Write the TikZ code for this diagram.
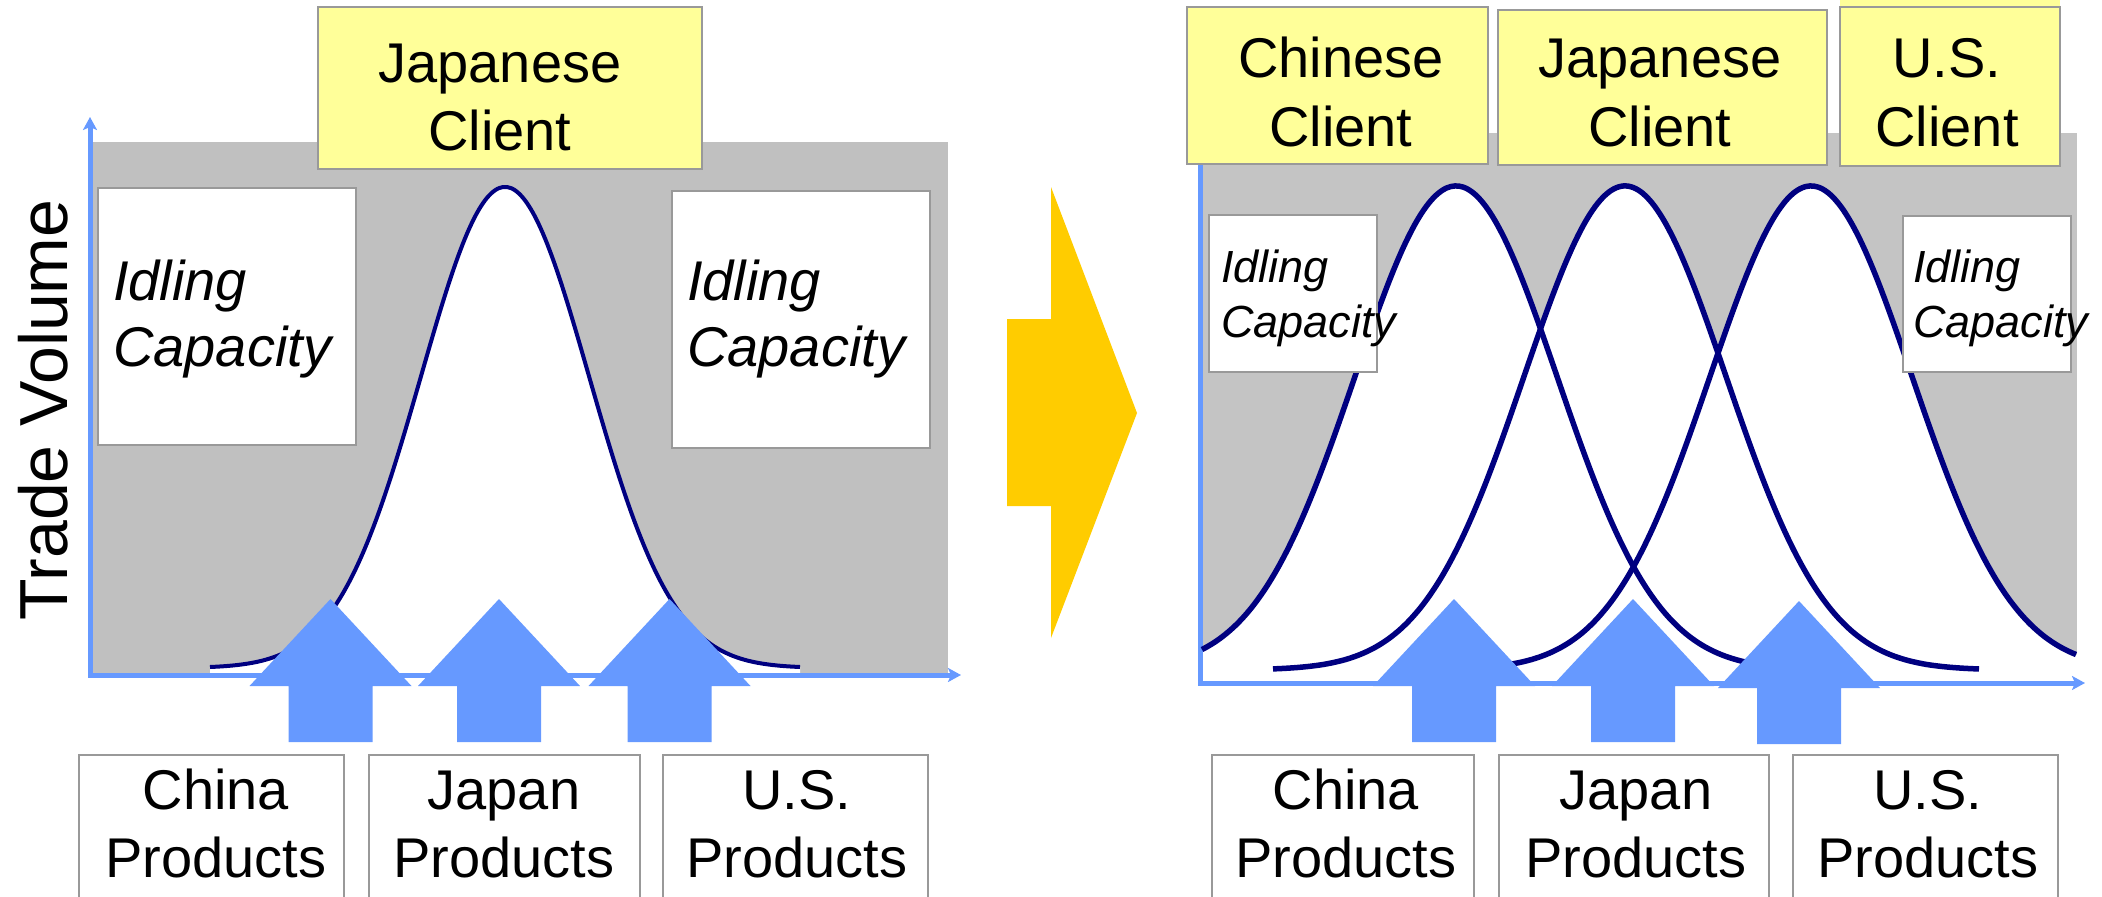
\documentclass[tikz,border=0pt]{standalone}
\usepackage{fontspec}
\setmainfont{Liberation Sans}
\usetikzlibrary{arrows.meta}
\definecolor{axisblue}{HTML}{6699FF}
\definecolor{arrowblue}{HTML}{6699FF}
\definecolor{bgleft}{HTML}{C0C0C0}
\definecolor{bgright}{HTML}{C4C4C4}
\definecolor{clientyellow}{HTML}{FFFF99}
\definecolor{boxgray}{HTML}{999999}
\definecolor{curvenavy}{HTML}{000080}
\definecolor{chevroncol}{HTML}{FFCC00}
\begin{document}
\begin{tikzpicture}[x=1pt,y=-1pt,
  panelbox/.style={draw=boxgray, line width=1.5pt, inner sep=0pt, outer sep=0pt, anchor=north west},
  clientbox/.style={panelbox, fill=clientyellow},
  whitebox/.style={panelbox, fill=white},
  bigtext/.style={font=\fontsize{56}{68}\selectfont, align=center, inner sep=0pt, anchor=base},
  clienttext/.style={bigtext, font=\fontsize{56}{69}\selectfont},
  idletext/.style={font=\fontsize{56}{66}\selectfont\itshape, align=left, inner sep=0pt, anchor=base west},
  smallidletext/.style={font=\fontsize{45}{55}\selectfont\itshape, align=left, inner sep=0pt, anchor=base west},
  axisline/.style={draw=axisblue, line width=5pt, -{Stealth[length=13pt,width=14pt,inset=3pt]}},
  bell/.style={draw=curvenavy, line width=4pt},
  bellR/.style={draw=curvenavy, line width=5.5pt},
  upblock/.pic={\fill[arrowblue] (-42,0) -- (-42,-56) -- (-81,-56) -- (0,-143) -- (81,-56) -- (42,-56) -- (42,0) -- cycle;}
]
\useasboundingbox (0,0) rectangle (2102,897);
\clip (0,0) rectangle (2102,897);

% ---------- left panel ----------
\fill[bgleft] (93,142) rectangle (948,673);
\fill[white] plot[domain=210:800, samples=150, smooth] (\x,{668-481*exp(-0.5*((\x-505)/84)^2)}) -- (800,673) -- (210,673) -- cycle;
\draw[axisline] (90,677) -- (90,117);
\draw[axisline] (88,675) -- (961,675);
\draw[bell] plot[domain=210:800, samples=150, smooth] (\x,{668-481*exp(-0.5*((\x-505)/84)^2)});

\node[whitebox, minimum width=258pt, minimum height=257pt] (idL1) at (98,188) {};
\node[whitebox, minimum width=258pt, minimum height=257pt] (idL2) at (672,191) {};
\node[idletext] (idL1t) at (113,366) {Idling\\Capacity};
\node[idletext] (idL2t) at (687,366) {Idling\\Capacity};

\node[clientbox, minimum width=384pt, minimum height=162pt] (cjpL) at (318,7) {};
\node[clienttext, font=\fontsize{56}{68}\selectfont] (cjpLt) at (500,150) {Japanese\\Client};

\pic at (330.5,742) {upblock};
\pic at (499,742) {upblock};
\pic at (669.5,742) {upblock};

\node[whitebox, minimum width=265pt, minimum height=150pt] (pL1) at (79,755) {};
\node[whitebox, minimum width=271pt, minimum height=150pt] (pL2) at (369,755) {};
\node[whitebox, minimum width=265pt, minimum height=150pt] (pL3) at (663,755) {};
\node[bigtext] (pL1t) at (216,877) {China\\Products};
\node[bigtext] (pL2t) at (504,877) {Japan\\Products};
\node[bigtext] (pL3t) at (797,877) {U.S.\\Products};

\node[font=\fontsize{68}{80}\selectfont, rotate=90, anchor=base, inner sep=0pt] (ylab) at (67,410) {Trade Volume};

% ---------- chevron ----------
\fill[chevroncol] (1007,319) -- (1051,319) -- (1051,187) -- (1137,413) -- (1051,638) -- (1051,506) -- (1007,506) -- cycle;

% ---------- right panel ----------
\fill[bgright] (1200,133) rectangle (2077,682);
\fill[white] plot[domain=1202:1810, samples=150, smooth] (\x,{670-484*exp(-0.5*((\x-1456)/101)^2)}) -- (1810,682) -- (1202,682) -- cycle;
\fill[white] plot[domain=1273:1979, samples=150, smooth] (\x,{670-484*exp(-0.5*((\x-1625)/101)^2)}) -- (1979,682) -- (1273,682) -- cycle;
\fill[white] plot[domain=1457:2077, samples=150, smooth] (\x,{670-484*exp(-0.5*((\x-1811)/101)^2)}) -- (2077,682) -- (1457,682) -- cycle;
\draw[axisline] (1200,685) -- (1200,120);
\draw[axisline] (1198,683) -- (2085,683);
\draw[bellR] plot[domain=1202:1810, samples=150, smooth] (\x,{670-484*exp(-0.5*((\x-1456)/101)^2)});
\draw[bellR] plot[domain=1273:1979, samples=150, smooth] (\x,{670-484*exp(-0.5*((\x-1625)/101)^2)});
\draw[bellR] plot[domain=1457:2076, samples=150, smooth] (\x,{670-484*exp(-0.5*((\x-1811)/101)^2)});

\node[whitebox, minimum width=168pt, minimum height=157pt] (idR1) at (1209,215) {};
\node[whitebox, minimum width=168pt, minimum height=156pt] (idR2) at (1903,216) {};
\node[smallidletext] (idR1t) at (1221,337.5) {Idling\\Capacity};
\node[smallidletext] (idR2t) at (1913,337.5) {Idling\\Capacity};

\fill[clientyellow] (1840,0) rectangle (2060,7);
\node[clientbox, minimum width=301pt, minimum height=157pt] (cchR) at (1187,7) {};
\node[clientbox, minimum width=329pt, minimum height=155pt] (cjpR) at (1498,10) {};
\node[clientbox, minimum width=220pt, minimum height=159pt] (cusR) at (1840,7) {};
\node[clienttext] (cchRt) at (1341,146) {Chinese\\Client};
\node[clienttext] (cjpRt) at (1660,146) {Japanese\\Client};
\node[clienttext] (cusRt) at (1947,146) {U.S.\\Client};

\pic at (1454,742) {upblock};
\pic at (1633,742) {upblock};
\pic at (1799,744) {upblock};

\node[whitebox, minimum width=262pt, minimum height=150pt] (pR1) at (1212,755) {};
\node[whitebox, minimum width=270pt, minimum height=150pt] (pR2) at (1499,755) {};
\node[whitebox, minimum width=265pt, minimum height=150pt] (pR3) at (1793,755) {};
\node[bigtext] (pR1t) at (1346,877) {China\\Products};
\node[bigtext] (pR2t) at (1636,877) {Japan\\Products};
\node[bigtext] (pR3t) at (1928,877) {U.S.\\Products};
\end{tikzpicture}
\end{document}
